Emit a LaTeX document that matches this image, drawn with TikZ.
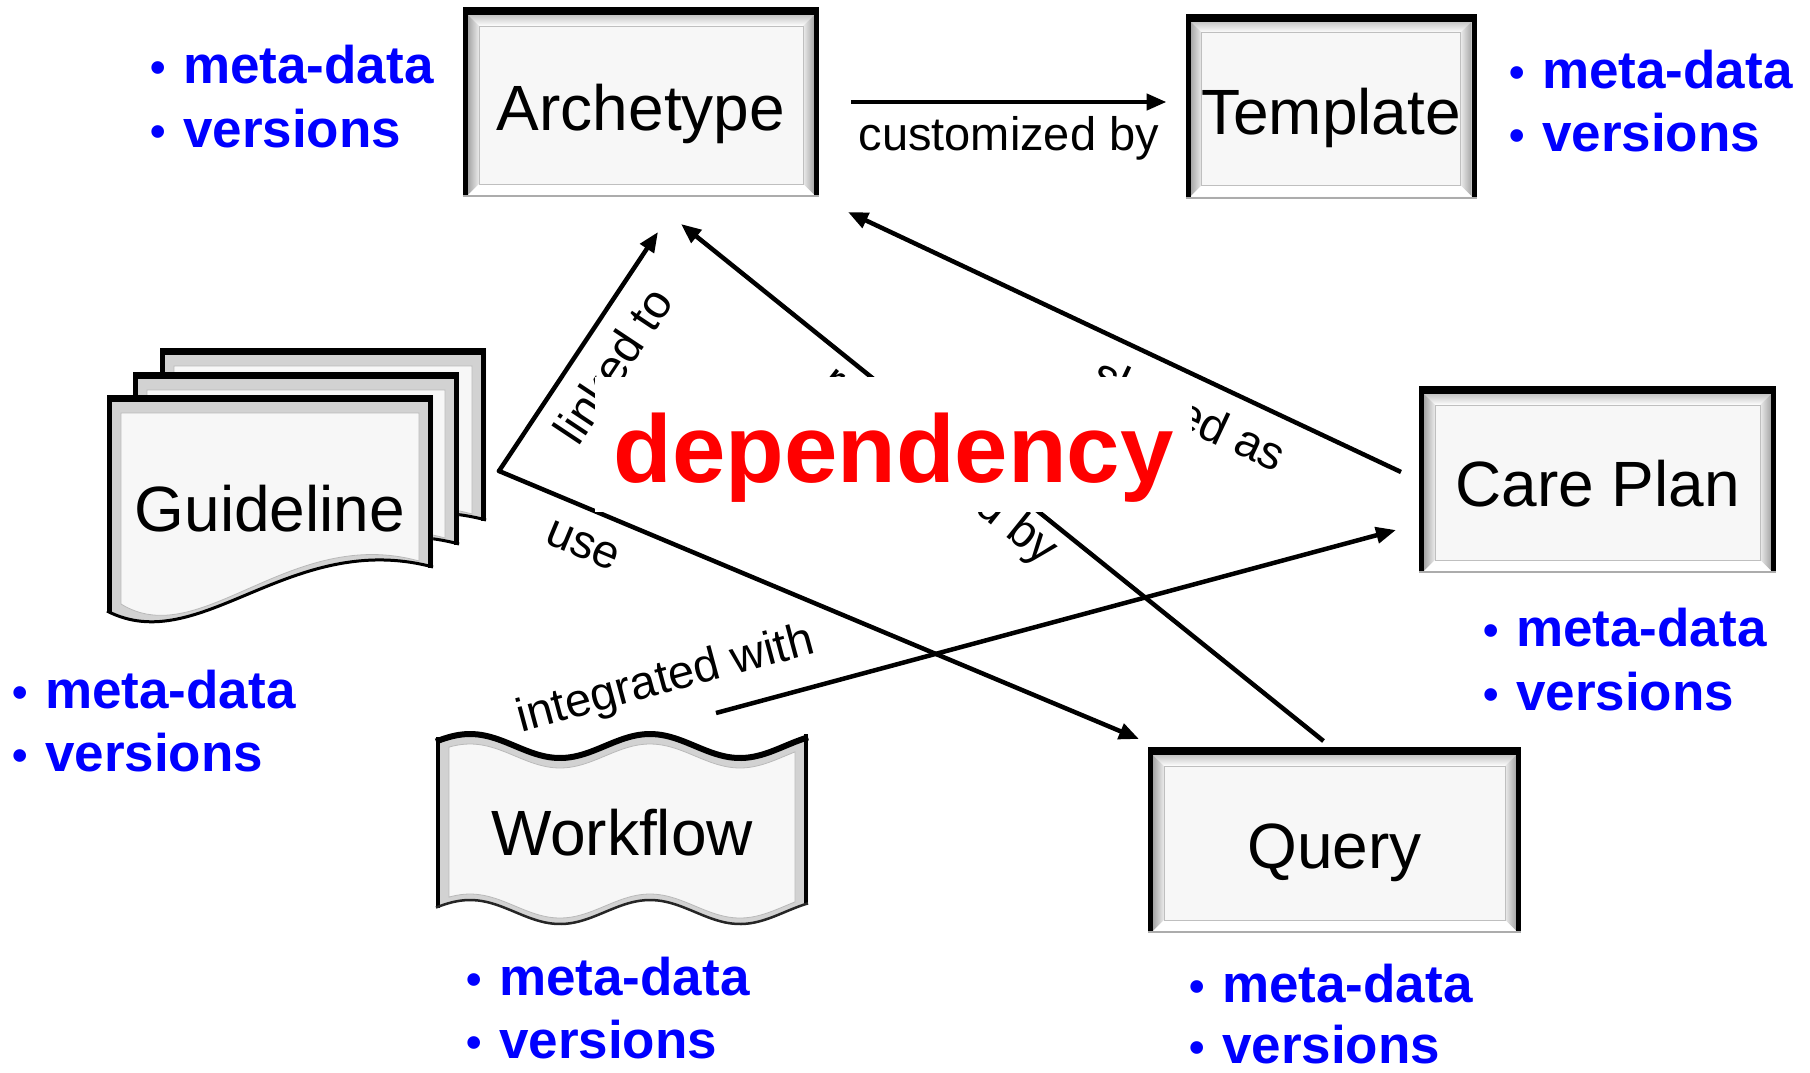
\documentclass[tikz,border=0pt]{standalone}
\usepackage{fontspec}
\setmainfont{Liberation Sans}
\usetikzlibrary{arrows.meta}
\definecolor{face}{HTML}{F7F7F7}
\definecolor{metablue}{HTML}{0000FF}
\definecolor{depred}{HTML}{FF0000}

% raised frame drawn round a rectangular node: dark rim, bevel bands, face outline
\newcommand\bevelframe[1]{%
  \shade[top color=gray!45, bottom color=white]
    ([shift={(5pt,-8pt)}]#1.north west) -- ([shift={(-5pt,-8pt)}]#1.north east)
    -- ([shift={(-16pt,-19pt)}]#1.north east) -- ([shift={(16pt,-19pt)}]#1.north west) -- cycle;
  \shade[left color=gray!70, right color=gray!15]
    ([shift={(5pt,-8pt)}]#1.north west) -- ([shift={(16pt,-19pt)}]#1.north west)
    -- ([shift={(16pt,13pt)}]#1.south west) -- ([shift={(5pt,2pt)}]#1.south west) -- cycle;
  \shade[left color=gray!15, right color=gray!70]
    ([shift={(-5pt,-8pt)}]#1.north east) -- ([shift={(-16pt,-19pt)}]#1.north east)
    -- ([shift={(-16pt,13pt)}]#1.south east) -- ([shift={(-5pt,2pt)}]#1.south east) -- cycle;
  \fill[white]
    ([shift={(5pt,2pt)}]#1.south west) -- ([shift={(16pt,13pt)}]#1.south west)
    -- ([shift={(-16pt,13pt)}]#1.south east) -- ([shift={(-5pt,2pt)}]#1.south east) -- cycle;
  \draw[gray!50, line width=0.8pt]
    ([shift={(16pt,-19pt)}]#1.north west) rectangle ([shift={(-16pt,13pt)}]#1.south east);
  \fill[black] (#1.north west) rectangle ([xshift=5pt]#1.south west);
  \fill[black] (#1.north west) rectangle ([yshift=-8pt]#1.north east);
  \fill[black] (#1.north east) rectangle ([xshift=-5pt]#1.south east);
  \fill[gray!65] (#1.south west) rectangle ([yshift=2pt]#1.south east);
}
% small bullet followed by the item text
\newcommand\metaitem[1]{\makebox[33pt][l]{\fontsize{44}{64}\selectfont\raisebox{1pt}{•}}#1}

\begin{document}
\begin{tikzpicture}[x=1pt, y=-1pt,
  boxnode/.style={rectangle, inner sep=0pt, outer sep=0pt, fill=face, text depth=0pt,
    font=\fontsize{64}{77}\selectfont},
  shapetext/.style={rectangle, inner sep=0pt, outer sep=0pt, text depth=0pt,
    font=\fontsize{64}{77}\selectfont},
  lab/.style={inner sep=0pt, outer sep=0pt, text height=34pt, text depth=10pt,
    font=\fontsize{47}{56}\selectfont},
  meta/.style={inner sep=0pt, anchor=base west, text=metablue,
    font=\fontsize{53}{64}\selectfont\bfseries},
  link/.style={draw, line width=4.5pt, -{Triangle[length=20pt,width=16pt]}},
  gdoc/.pic={
    \fill[gray!35] (0,0) -- (326,0) -- (326,173) .. controls (183,135) and (93,265) .. (0,217) -- cycle;
    \fill[face, draw=gray!55, line width=0.8pt] (14,18) -- (312,18) -- (312,166)
      .. controls (183,130) and (93,258) .. (14,209) -- cycle;
    \fill[black] (0,0) rectangle (326,7);
    \fill[black] (0,0) rectangle (5,217);
    \fill[black] (321,0) rectangle (326,173);
    \draw[black, line width=3pt] (326,172) .. controls (183,134) and (93,264) .. (0,216);
  }
]
\fill[white] (0,0) rectangle (1810,1072);
\useasboundingbox (0,0) rectangle (1810,1072);

% stacked guideline pages
\pic at (160,348) {gdoc};
\pic at (133,372) {gdoc};
\pic at (107,395) {gdoc};
\node[shapetext, minimum width=326pt, minimum height=218pt, text height=54pt] (guideline) at (270,504) {Guideline};

% workflow banner with double wave
\fill[gray!35] plot[domain=436:808, samples=90] (\x,{744-12*sin(2*(\x-425))})
  -- plot[domain=808:436, samples=90] (\x,{913-12*sin(2*(\x-425))}) -- cycle;
\fill[face, draw=gray!55, line width=0.8pt]
  plot[domain=449:795, samples=90] (\x,{756-12*sin(2*(\x-425))})
  -- plot[domain=795:449, samples=90] (\x,{906-12*sin(2*(\x-425))}) -- cycle;
\draw[black, line width=6pt] plot[domain=436:808, samples=90] (\x,{746-12*sin(2*(\x-425))});
\draw[black, line width=4pt] (438,737) -- (438,908);
\draw[black, line width=4pt] (806,734) -- (806,905);
\draw[black!85, line width=2.5pt] plot[domain=436:808, samples=90] (\x,{912-12*sin(2*(\x-425))});
\node[shapetext, minimum width=372pt, minimum height=169pt, text height=53pt] (workflow) at (622,828.5) {Workflow};

% rectangular artefacts
\node[boxnode, minimum width=356pt, minimum height=190pt, text height=56pt] (archetype) at (641,102) {Archetype};
\bevelframe{archetype}
\node[boxnode, minimum width=291pt, minimum height=185pt, text height=56pt] (template) at (1331,106) {Template};
\bevelframe{template}
\node[boxnode, minimum width=357pt, minimum height=187pt, text height=54pt] (careplan) at (1597.5,479.5) {Care Plan};
\bevelframe{careplan}
\node[boxnode, minimum width=373pt, minimum height=186pt, text height=56pt] (query) at (1334.5,840) {Query};
\bevelframe{query}

% properties kept for every artefact
\node[meta] (arch-md) at (150,83) {\metaitem{meta-data}};
\node[meta] (arch-vs) at (150,147) {\metaitem{versions}};
\node[meta] (tmpl-md) at (1509,88) {\metaitem{meta-data}};
\node[meta] (tmpl-vs) at (1509,151) {\metaitem{versions}};
\node[meta] (gdl-md) at (12,708) {\metaitem{meta-data}};
\node[meta] (gdl-vs) at (12,771) {\metaitem{versions}};
\node[meta] (cp-md) at (1483,646) {\metaitem{meta-data}};
\node[meta] (cp-vs) at (1483,710) {\metaitem{versions}};
\node[meta] (wf-md) at (466,995) {\metaitem{meta-data}};
\node[meta] (wf-vs) at (466,1058) {\metaitem{versions}};
\node[meta] (qu-md) at (1189,1002) {\metaitem{meta-data}};
\node[meta] (qu-vs) at (1189,1063) {\metaitem{versions}};

% connector ends
\coordinate (cz-a) at ([xshift=32pt]archetype.east);
\coordinate (tp-in) at ([xshift=-19pt]template.west);
\coordinate (gl-port) at ([shift={(66pt,33pt)}]guideline.east);
\coordinate (ar-lk) at ([shift={(17pt,-35pt)}]archetype.south);
\coordinate (ar-rf) at ([shift={(40pt,-27pt)}]archetype.south);
\coordinate (ar-sh) at ([shift={(29pt,-15pt)}]archetype.south east);
\coordinate (qu-in) at ([shift={(-9pt,8pt)}]query.north west);
\coordinate (qu-out) at ([shift={(-11pt,6pt)}]query.north);
\coordinate (cp-out) at ([shift={(-18pt,7.5pt)}]careplan.west);
\coordinate (cp-in) at ([shift={(-23pt,-50.5pt)}]careplan.west);
\coordinate (wf-port) at ([shift={(94pt,31pt)}]workflow.north);

% relations
\draw[link] (cz-a) -- node[lab, below=14pt] {customized by} (cz-a -| tp-in);
\draw[link, line cap=round] (gl-port) -- node[lab, sloped, pos=0.527, below=19pt] {linked to} (ar-lk);
\draw[link, line cap=round] (gl-port) -- node[lab, sloped, pos=0.153, below=15pt] {use} (qu-in);
\draw[link] (qu-out) -- node[lab, sloped, pos=0.572, below=6pt] {referenced by} (ar-rf);
\draw[link] (cp-out) -- node[lab, sloped, pos=0.353, below=20pt] {shared as} (ar-sh);
\draw[link] (wf-port) -- node[lab, sloped, pos=-0.057, above=22pt] {integrated with} (cp-in);

% central caption on a white plate
\node[fill=white, text=depred, inner sep=0pt, minimum width=597pt, minimum height=135pt,
  text height=75pt, text depth=0pt, font=\fontsize{96}{115}\selectfont\bfseries] (dep) at (893.5,444.5) {dependency};
\end{tikzpicture}
\end{document}
